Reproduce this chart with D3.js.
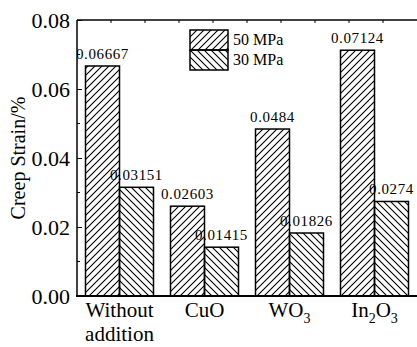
<!DOCTYPE html>
<html>
<head>
<meta charset="utf-8">
<script src="https://cdn.jsdelivr.net/npm/d3@7"></script>
<style>
  body { margin: 0; background: #fff; }
  svg text { font-family: "Liberation Serif", "Times New Roman", serif; fill: #000; }
</style>
</head>
<body>
<script>
// data
var categories = ["Without addition", "CuO", "WO3", "In2O3"];
var series = ["50 MPa", "30 MPa"];
var strain50 = [0.06667, 0.02603, 0.0484, 0.07124];
var strain30 = [0.03151, 0.01415, 0.01826, 0.0274];
var labels50 = ["0.06667", "0.02603", "0.0484", "0.07124"];
var labels30 = ["0.03151", "0.01415", "0.01826", "0.0274"];
var yTicks = [0, 0.02, 0.04, 0.06, 0.08];

var serif = "Liberation Serif, Times New Roman, serif";
var width = 417, height = 347;
var plotL = 77, plotR = 417, plotT = 20, plotB = 296;

var x = d3.scaleLinear().domain([0.5, 4.5]).range([plotL, plotR]);
var y = d3.scaleLinear().domain([0, 0.08]).range([plotB, plotT]);
var barW = 0.4;

var svg = d3.select("body").append("svg")
    .attr("width", width)
    .attr("height", height)
    .attr("font-family", serif);

var defs = svg.append("defs");

// hatch patterns
var p1 = defs.append("pattern")
    .attr("id", "hatchF")
    .attr("patternUnits", "userSpaceOnUse")
    .attr("width", 7).attr("height", 7);
p1.append("path")
    .attr("d", "M-1,1 l2,-2 M0,7 l7,-7 M6,8 l2,-2")
    .attr("stroke", "#000").attr("stroke-width", 1.1);

var p2 = defs.append("pattern")
    .attr("id", "hatchB")
    .attr("patternUnits", "userSpaceOnUse")
    .attr("width", 7).attr("height", 7);
p2.append("path")
    .attr("d", "M-1,6 l2,2 M0,0 l7,7 M6,-1 l2,2")
    .attr("stroke", "#000").attr("stroke-width", 1.1);

defs.append("clipPath")
    .attr("id", "clip")
    .append("rect")
    .attr("x", plotL).attr("y", 0)
    .attr("width", plotR - plotL).attr("height", plotB);

var data = categories.map(function(c, i) {
    return { i: i + 1, v50: strain50[i], v30: strain30[i], l50: labels50[i], l30: labels30[i] };
});

var body = svg.append("g");

body.selectAll(".bar50")
    .data(data)
  .enter().append("rect")
    .attr("class", "bar50")
    .attr("x", function(d) { return x(d.i - barW); })
    .attr("y", function(d) { return y(d.v50); })
    .attr("width", function(d) { return x(d.i) - x(d.i - barW); })
    .attr("height", function(d) { return y(0) - y(d.v50); })
    .attr("fill", "url(#hatchF)")
    .attr("stroke", "#000")
    .attr("stroke-width", 1.5);

body.selectAll(".bar30")
    .data(data)
  .enter().append("rect")
    .attr("class", "bar30")
    .attr("x", function(d) { return x(d.i); })
    .attr("y", function(d) { return y(d.v30); })
    .attr("width", function(d) { return x(d.i + barW) - x(d.i); })
    .attr("height", function(d) { return y(0) - y(d.v30); })
    .attr("fill", "url(#hatchB)")
    .attr("stroke", "#000")
    .attr("stroke-width", 1.5);

// value labels
var lab = svg.append("g").attr("clip-path", "url(#clip)");
lab.selectAll(".l50")
    .data(data)
  .enter().append("text")
    .attr("x", function(d) { return x(d.i - barW / 2); })
    .attr("y", function(d) { return y(d.v50) - 7; })
    .attr("text-anchor", "middle")
    .style("font-size", "15px")
    .style("letter-spacing", "0.6px")
    .text(function(d) { return d.l50; });
lab.selectAll(".l30")
    .data(data)
  .enter().append("text")
    .attr("x", function(d) { return x(d.i + barW / 2); })
    .attr("y", function(d) { return y(d.v30) - 7; })
    .attr("text-anchor", "middle")
    .style("font-size", "15px")
    .style("letter-spacing", "0.6px")
    .text(function(d) { return d.l30; });

// axes
var yAxis = d3.axisLeft(y)
    .tickValues(yTicks)
    .tickSize(-5)
    .tickPadding(12)
    .tickFormat(d3.format(".2f"));

var gy = svg.append("g")
    .attr("transform", "translate(" + plotL + ",0)")
    .call(yAxis)
    .attr("font-family", serif)
    .attr("font-size", 22);
gy.select(".domain").remove();
gy.selectAll("text").attr("x", -7);

// minor y ticks
svg.selectAll(".minor")
    .data([0.01, 0.03, 0.05, 0.07])
  .enter().append("line")
    .attr("x1", plotL).attr("x2", plotL + 3)
    .attr("y1", function(d) { return y(d); })
    .attr("y2", function(d) { return y(d); })
    .attr("stroke", "#000");

// top ticks
svg.selectAll(".topTick")
    .data(d3.range(0.9, 4.4, 0.4))
  .enter().append("line")
    .attr("x1", function(d) { return x(d); })
    .attr("x2", function(d) { return x(d); })
    .attr("y1", plotT).attr("y2", plotT + 3)
    .attr("stroke", "#000");

svg.append("line")
    .attr("x1", plotL).attr("x2", plotR)
    .attr("y1", plotT).attr("y2", plotT)
    .attr("stroke", "#000").attr("stroke-width", 1.5);
svg.append("line")
    .attr("x1", plotL).attr("x2", plotL)
    .attr("y1", plotT).attr("y2", plotB)
    .attr("stroke", "#000").attr("stroke-width", 1.5);
svg.append("line")
    .attr("x1", plotL - 1).attr("x2", plotR)
    .attr("y1", plotB).attr("y2", plotB)
    .attr("stroke", "#000").attr("stroke-width", 2);

// category labels
var xl = svg.append("g").style("font-size", "21px");
var t0 = xl.append("text").attr("x", x(1)).attr("y", 317).attr("text-anchor", "middle");
t0.append("tspan").attr("x", x(1)).text("Without");
t0.append("tspan").attr("x", x(1)).attr("dy", 24).text("addition");

xl.append("text").attr("x", x(2)).attr("y", 317).attr("text-anchor", "middle").text("CuO");

var t2 = xl.append("text").attr("x", x(3)).attr("y", 317).attr("text-anchor", "middle");
t2.append("tspan").text("WO");
t2.append("tspan").attr("dy", 6).style("font-size", "14px").text("3");

var t3 = xl.append("text").attr("x", x(4)).attr("y", 317).attr("text-anchor", "middle");
t3.append("tspan").text("In");
t3.append("tspan").attr("dy", 6).style("font-size", "14px").text("2");
t3.append("tspan").attr("dy", -6).text("O");
t3.append("tspan").attr("dy", 6).style("font-size", "14px").text("3");

// y title
svg.append("text")
    .attr("transform", "translate(25," + (plotT + plotB) / 2 + ") rotate(-90)")
    .attr("text-anchor", "middle")
    .style("font-size", "20px")
    .text("Creep Strain/%");

// legend
var legend = svg.selectAll(".legend")
    .data(series)
  .enter().append("g")
    .attr("class", "legend")
    .attr("transform", function(d, i) { return "translate(190," + (30 + i * 20) + ")"; });

legend.append("rect")
    .attr("width", 38).attr("height", 20)
    .attr("fill", function(d, i) { return i === 0 ? "url(#hatchF)" : "url(#hatchB)"; })
    .attr("stroke", "#000").attr("stroke-width", 1.5);

legend.append("text")
    .attr("x", 43).attr("y", 15)
    .style("font-size", "16px")
    .text(function(d) { return d; });
</script>
</body>
</html>
